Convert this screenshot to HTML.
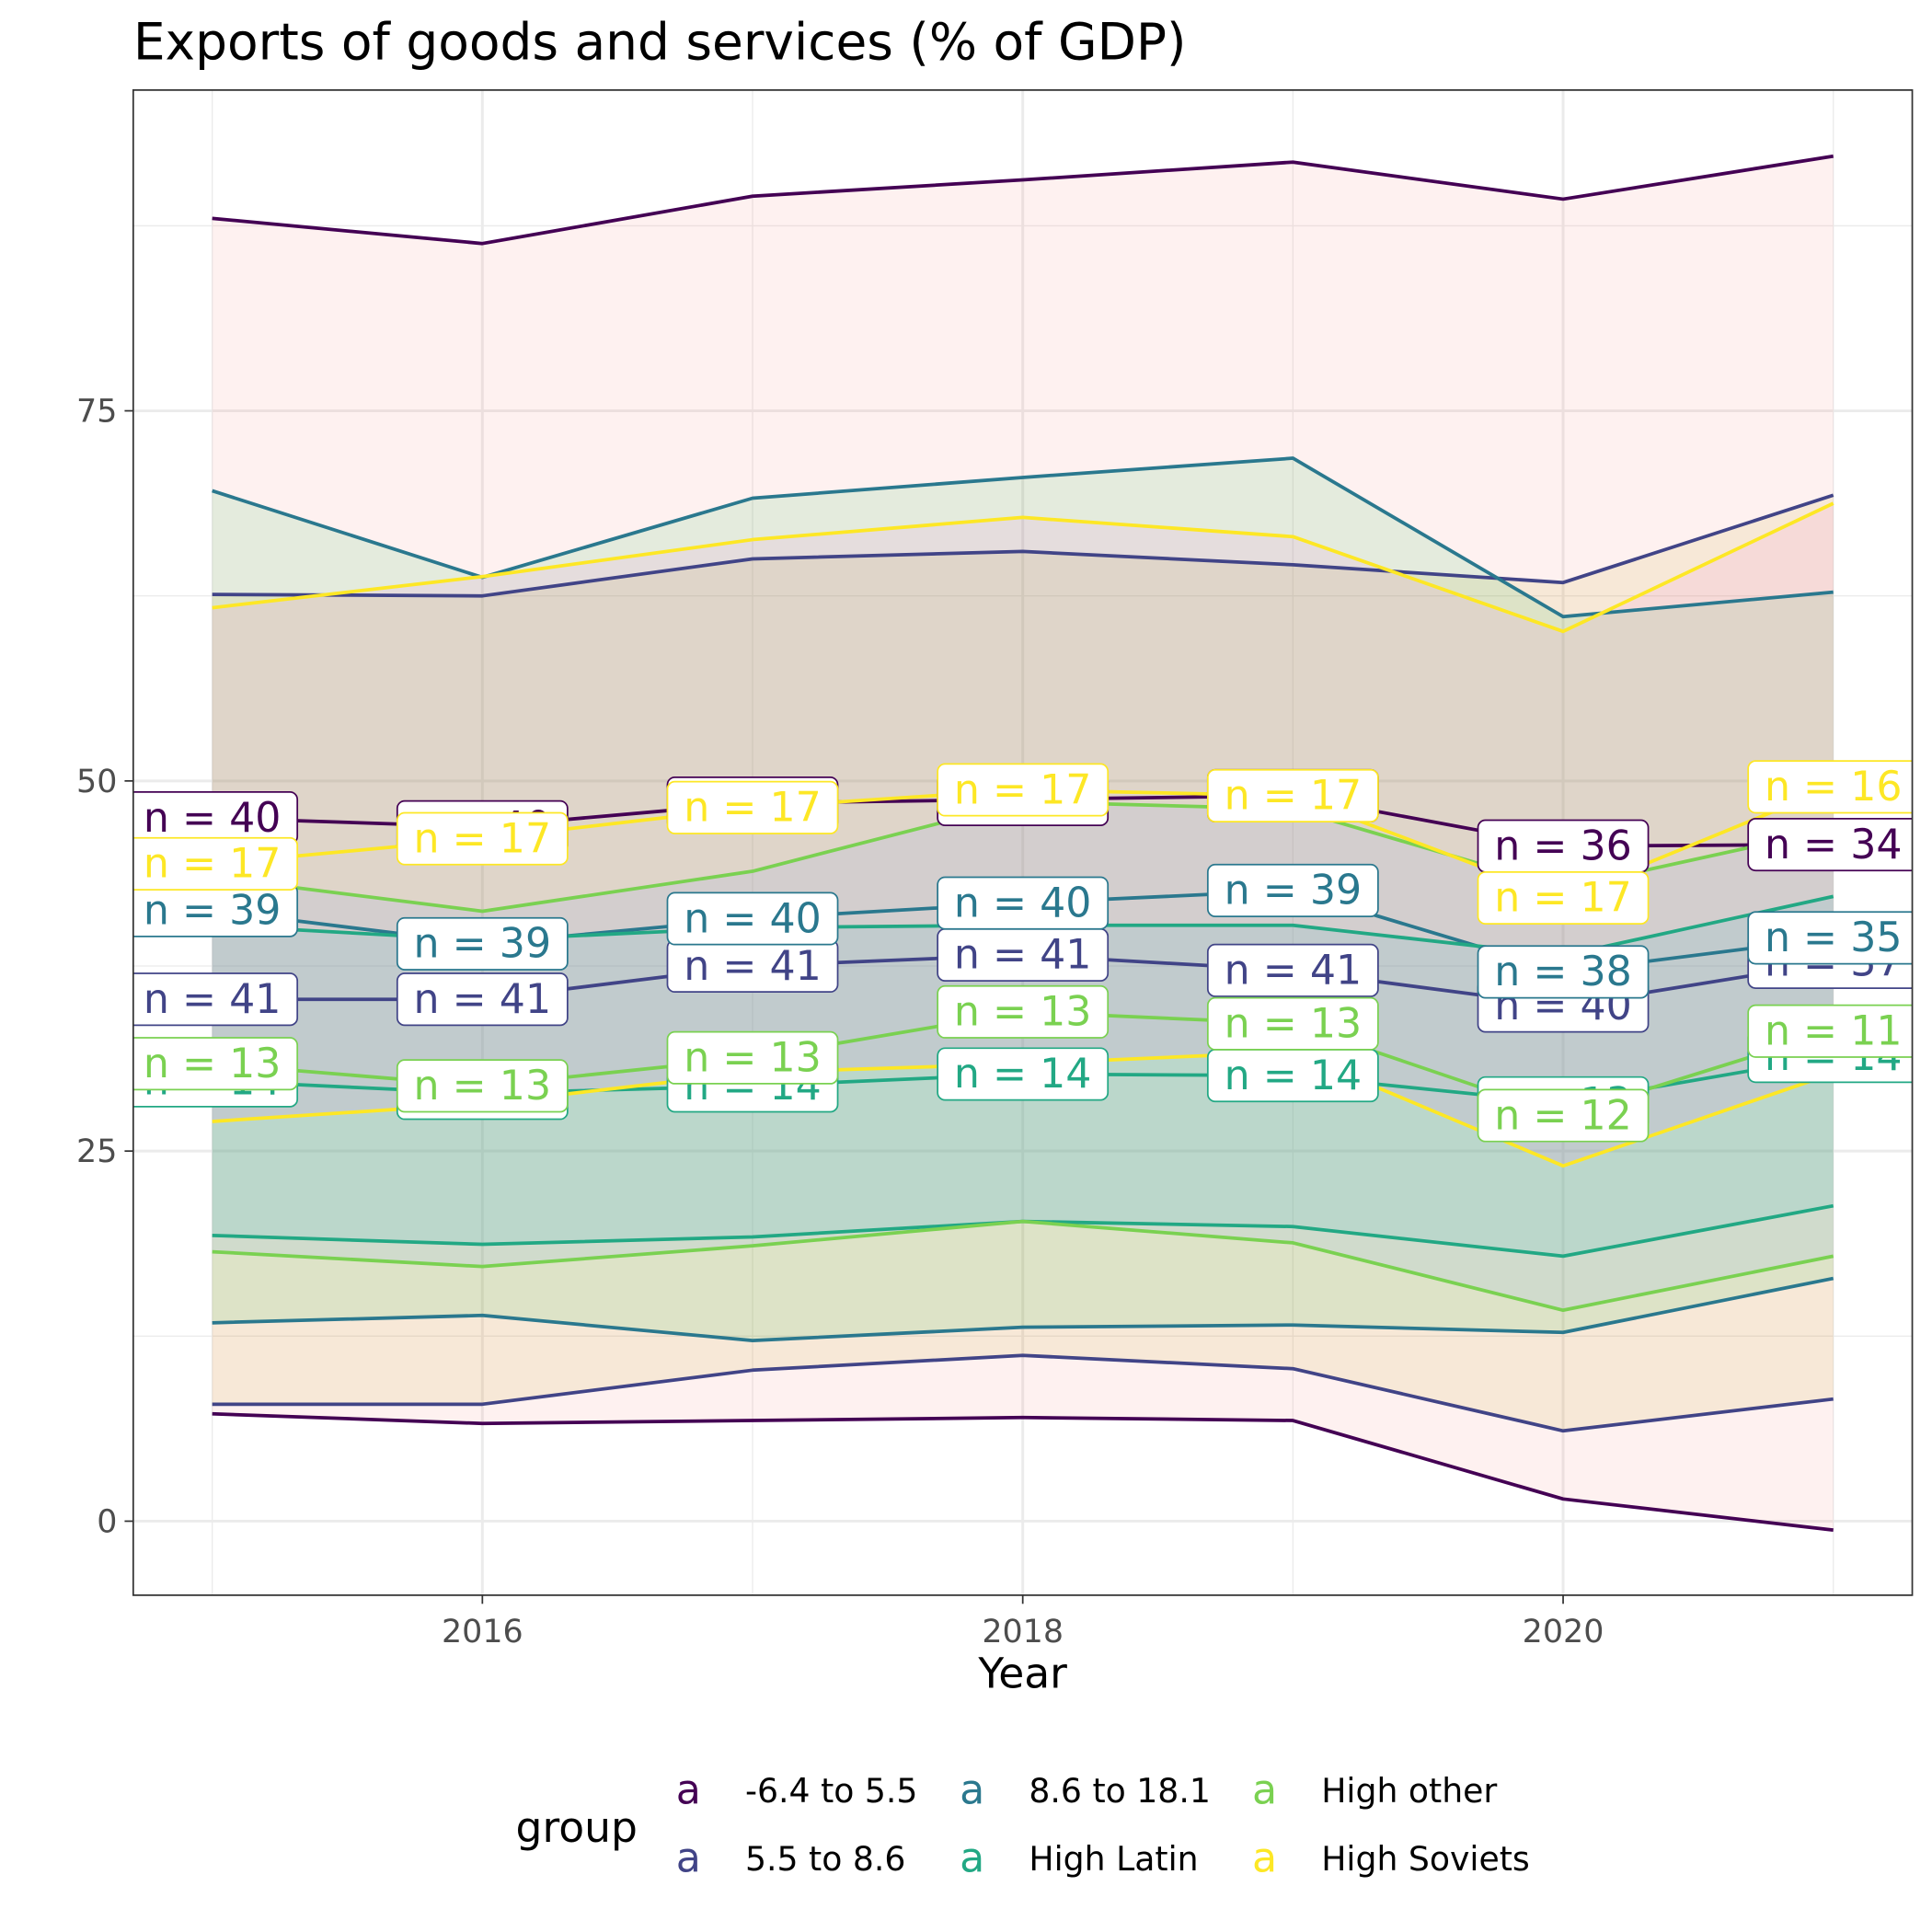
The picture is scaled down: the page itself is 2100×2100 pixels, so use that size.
<!DOCTYPE html>
<html><head><meta charset="utf-8"><style>
html,body{margin:0;padding:0;background:#fff}
svg{display:block;font-family:"DejaVu Sans","Liberation Sans",sans-serif}
</style></head><body>
<svg id="chart" width="2100" height="2100" viewBox="0 0 1566 1566" xmlns="http://www.w3.org/2000/svg">
<rect width="1566" height="1566" fill="#fff"/>
<text x="108" y="48" font-size="41" fill="#000">Exports of goods and services (% of GDP)</text>
<defs><clipPath id="pc"><rect x="108" y="73" width="1442" height="1220"/></clipPath></defs>
<g id="grid"></g>
<g id="marks" clip-path="url(#pc)"></g>
<rect x="108" y="73" width="1442" height="1220" fill="none" stroke="#333" stroke-width="1.3"/>
<g id="axes"></g>
<text x="829" y="1368" font-size="34" text-anchor="middle">Year</text>
<g id="legend"></g>
</svg>
<script>
const years=[2015,2016,2017,2018,2019,2020,2021];
const groupNames=["-6.4 to 5.5","5.5 to 8.6","8.6 to 18.1","High Latin","High other","High Soviets"];
const lineColors=["#440154","#414487","#2A788E","#22A884","#7AD151","#FDE725"];
const fillColors=["#F8766D","#B79F00","#00BA38","#00BFC4","#619CFF","#F564E3"];
const maxVals=[
[88.0,86.3,89.5,90.6,91.8,89.3,92.2],
[62.6,62.5,65.0,65.5,64.6,63.4,69.3],
[69.6,63.75,69.1,70.5,71.8,61.1,62.75],
[40.25,39.25,40.1,40.25,40.25,38.2,42.2],
[43.5,41.2,43.9,48.6,48.1,42.75,46.75],
[61.7,63.8,66.3,67.8,66.5,60.1,68.75]];
const meanVals=[
[47.5,46.9,48.5,48.75,49.0,45.6,45.7],
[35.25,35.25,37.5,38.25,37.2,34.8,37.75],
[41.25,39.0,40.7,41.75,42.6,37.1,39.4],
[29.75,28.9,29.4,30.2,30.1,28.25,31.4],
[30.9,29.4,31.3,34.4,33.6,27.4,33.1],
[44.4,46.1,48.2,49.4,49.0,42.1,49.6]];
const minVals=[
[7.25,6.6,6.8,7.0,6.8,1.5,-0.6],
[7.9,7.9,10.2,11.2,10.3,6.1,8.25],
[13.4,13.9,12.2,13.1,13.25,12.75,16.4],
[19.3,18.7,19.2,20.25,19.9,17.9,21.3],
[18.2,17.2,18.6,20.25,18.8,14.25,17.9],
[27.0,28.2,30.3,30.9,31.7,24.0,30.25]];
const nVals=[
[40,40,40,40,40,36,34],
[41,41,41,41,41,40,37],
[39,39,40,40,39,38,35],
[14,14,14,14,14,13,14],
[13,13,13,13,13,12,11],
[17,17,17,17,17,17,16]];
const yTicks=[0,25,50,75];
const xTicks=[2016,2018,2020];

const NS="http://www.w3.org/2000/svg";
const X=v=>391+(v-2016)*219;
const Y=v=>1233-v*12;
function mk(tag,attrs,parent){const e=document.createElementNS(NS,tag);for(const k in attrs)e.setAttribute(k,attrs[k]);parent.appendChild(e);return e;}
const grid=document.getElementById('grid'),marks=document.getElementById('marks'),axes=document.getElementById('axes'),legend=document.getElementById('legend');
mk('rect',{x:108,y:73,width:1442,height:1220,fill:'#fff'},grid);
for(let v=-12.5;v<=100;v+=25){const y=Y(v);if(y<73||y>1293)continue;const l=mk('line',{x1:108,x2:1550,y1:y,y2:y,stroke:'#ebebeb','stroke-width':1},grid);}
for(let v=2015;v<=2021;v+=2){const l=mk('line',{x1:X(v),x2:X(v),y1:73,y2:1293,stroke:'#ebebeb','stroke-width':1},grid);}
yTicks.forEach(t=>{const l=mk('line',{x1:108,x2:1550,y1:Y(t),y2:Y(t),stroke:'#ebebeb','stroke-width':2.2},grid);
 const tk=mk('line',{x1:101,x2:108,y1:Y(t),y2:Y(t),stroke:'#333','stroke-width':1.3},axes);
 const tx=mk('text',{x:95,y:Y(t)+9,'font-size':26,fill:'#4d4d4d','text-anchor':'end'},axes);tx.textContent=t;});
xTicks.forEach(t=>{const l=mk('line',{x1:X(t),x2:X(t),y1:73,y2:1293,stroke:'#ebebeb','stroke-width':2.2},grid);
 const tk=mk('line',{x1:X(t),x2:X(t),y1:1293,y2:1300,stroke:'#333','stroke-width':1.3},axes);
 const tx=mk('text',{x:X(t),y:1331,'font-size':26,fill:'#4d4d4d','text-anchor':'middle'},axes);tx.textContent=t;});
const pts=a=>a.map((v,i)=>X(years[i])+','+Y(v)).join(' ');
groupNames.forEach((g,gi)=>{
 const up=maxVals[gi].map((v,i)=>X(years[i])+','+Y(v));
 const lo=minVals[gi].map((v,i)=>X(years[i])+','+Y(v)).reverse();
 const p=mk('polygon',{points:up.concat(lo).join(' '),fill:fillColors[gi],'fill-opacity':0.1},marks);
 
});
groupNames.forEach((g,gi)=>{
 [['max',maxVals],['mean',meanVals],['min',minVals]].forEach(([nm,arr])=>{
  const l=mk('polyline',{points:pts(arr[gi]),fill:'none',stroke:lineColors[gi],'stroke-width':2.8,'stroke-linejoin':'round'},marks);
  
 });
});
groupNames.forEach((g,gi)=>{
 nVals[gi].forEach((n,i)=>{
  const cx=X(years[i]),cy=Y(meanVals[gi][i]);
  const grp=mk('g',{},marks);
  
  
  mk('rect',{x:cx-69,y:cy-21,width:138,height:42,rx:6,fill:'#fff',stroke:lineColors[gi],'stroke-width':1.3},grp);
  const t=mk('text',{x:cx,y:cy+11,'font-size':33,fill:lineColors[gi],'text-anchor':'middle'},grp);t.textContent='n = '+n;
 });
});
const lt=mk('text',{x:418,y:1493,'font-size':34},legend);lt.textContent='group';
const colX=[558,788,1025],rowY=[1462,1517];
groupNames.forEach((g,gi)=>{
 const c=Math.floor(gi/2),r=gi%2;
 const e=mk('g',{},legend);
 
 
 const k=mk('text',{x:colX[c],y:rowY[r],'font-size':33,fill:lineColors[gi],'text-anchor':'middle'},e);k.textContent='a';
 const tx=mk('text',{x:colX[c]+46,y:rowY[r]-1,'font-size':27},e);tx.textContent=g;
});
</script>
</body></html>
